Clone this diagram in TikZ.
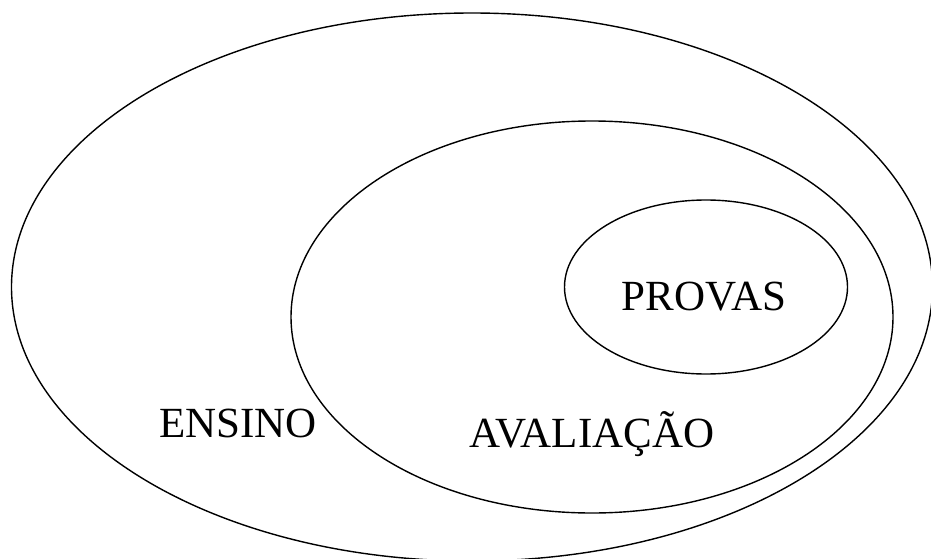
\documentclass[tikz,border=0pt]{standalone}
\usepackage{fontspec}
\setmainfont{Liberation Serif}
\usetikzlibrary{shapes.geometric}
\begin{document}
\begin{tikzpicture}[x=1pt,y=-1pt,
  setring/.style={ellipse, draw=black, line width=1.4pt, inner sep=0pt},
  setlabel/.style={anchor=base, inner sep=0pt, font=\fontsize{43}{43}\selectfont}]
\useasboundingbox (0,0) rectangle (931,559);
% nested sets
\node[setring, minimum width=921pt, minimum height=548pt] (ensino) at (472,287) {};
\node[setring, minimum width=602pt, minimum height=392pt] (avaliacao) at (592,317) {};
\node[setring, minimum width=283pt, minimum height=174pt] (provas) at (706,287) {};
% labels
\node[setlabel] (tprovas) at (704,310) {PROVAS};
\node[setlabel] (tensino) at (238,437) {ENSINO};
\node[setlabel] (tavaliacao) at (592,447) {AVALIAÇÃO};
\end{tikzpicture}
\end{document}
